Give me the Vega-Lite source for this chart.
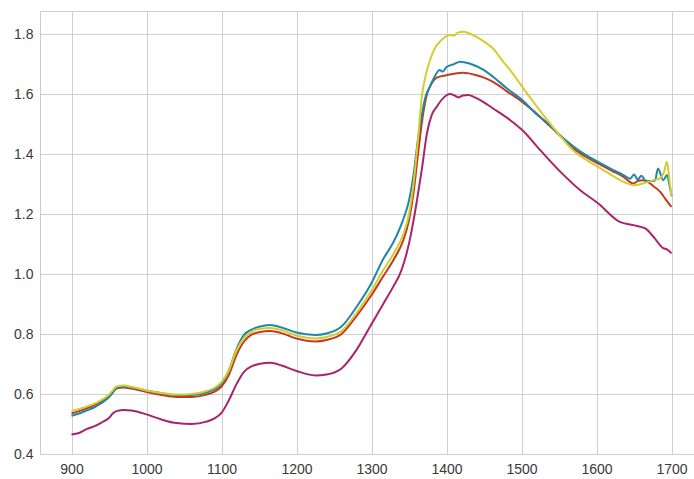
{
  "$schema": "https://vega.github.io/schema/vega-lite/v6.json",
  "width": 654,
  "height": 443,
  "autosize": {"type": "none"},
  "padding": {"left": 40, "top": 11, "right": 0, "bottom": 25},
  "background": "white",
  "config": {
    "view": {"stroke": "#cccccc", "strokeWidth": 1},
    "axis": {
      "grid": true,
      "gridColor": "#cfcfcf",
      "gridWidth": 1,
      "domain": false,
      "ticks": false,
      "labelFont": "Liberation Sans",
      "labelFontSize": 14,
      "labelColor": "#3a3a3a",
      "title": null
    }
  },
  "datasets": {
    "spectra": [
      {"s": "s1", "x": 900, "y": 0.465}, {"s": "s1", "x": 910, "y": 0.47}, {"s": "s1", "x": 920, "y": 0.483}, {"s": "s1", "x": 930, "y": 0.492}, {"s": "s1", "x": 940, "y": 0.505}, {"s": "s1", "x": 950, "y": 0.52}, {"s": "s1", "x": 955, "y": 0.535}, {"s": "s1", "x": 960, "y": 0.543}, {"s": "s1", "x": 970, "y": 0.547}, {"s": "s1", "x": 980, "y": 0.545}, {"s": "s1", "x": 1000, "y": 0.532}, {"s": "s1", "x": 1020, "y": 0.515}, {"s": "s1", "x": 1040, "y": 0.503}, {"s": "s1", "x": 1060, "y": 0.5}, {"s": "s1", "x": 1080, "y": 0.508}, {"s": "s1", "x": 1090, "y": 0.518}, {"s": "s1", "x": 1100, "y": 0.537}, {"s": "s1", "x": 1110, "y": 0.58}, {"s": "s1", "x": 1120, "y": 0.633}, {"s": "s1", "x": 1130, "y": 0.674}, {"s": "s1", "x": 1140, "y": 0.692}, {"s": "s1", "x": 1150, "y": 0.7}, {"s": "s1", "x": 1165, "y": 0.704}, {"s": "s1", "x": 1180, "y": 0.695}, {"s": "s1", "x": 1200, "y": 0.677}, {"s": "s1", "x": 1225, "y": 0.662}, {"s": "s1", "x": 1240, "y": 0.665}, {"s": "s1", "x": 1260, "y": 0.685}, {"s": "s1", "x": 1280, "y": 0.747}, {"s": "s1", "x": 1298, "y": 0.824}, {"s": "s1", "x": 1316, "y": 0.902}, {"s": "s1", "x": 1329, "y": 0.958}, {"s": "s1", "x": 1340, "y": 1.013}, {"s": "s1", "x": 1351, "y": 1.113}, {"s": "s1", "x": 1360, "y": 1.236}, {"s": "s1", "x": 1367, "y": 1.347}, {"s": "s1", "x": 1374, "y": 1.47}, {"s": "s1", "x": 1380, "y": 1.528}, {"s": "s1", "x": 1387, "y": 1.558}, {"s": "s1", "x": 1395, "y": 1.585}, {"s": "s1", "x": 1405, "y": 1.6}, {"s": "s1", "x": 1410, "y": 1.596}, {"s": "s1", "x": 1416, "y": 1.589}, {"s": "s1", "x": 1422, "y": 1.595}, {"s": "s1", "x": 1429, "y": 1.597}, {"s": "s1", "x": 1437, "y": 1.59}, {"s": "s1", "x": 1445, "y": 1.58}, {"s": "s1", "x": 1462, "y": 1.552}, {"s": "s1", "x": 1485, "y": 1.513}, {"s": "s1", "x": 1501, "y": 1.48}, {"s": "s1", "x": 1525, "y": 1.413}, {"s": "s1", "x": 1551, "y": 1.343}, {"s": "s1", "x": 1578, "y": 1.28}, {"s": "s1", "x": 1602, "y": 1.236}, {"s": "s1", "x": 1631, "y": 1.174}, {"s": "s1", "x": 1649, "y": 1.163}, {"s": "s1", "x": 1665, "y": 1.152}, {"s": "s1", "x": 1676, "y": 1.124}, {"s": "s1", "x": 1689, "y": 1.086}, {"s": "s1", "x": 1694, "y": 1.082}, {"s": "s1", "x": 1700, "y": 1.069},

      {"s": "s2", "x": 900, "y": 0.535}, {"s": "s2", "x": 910, "y": 0.543}, {"s": "s2", "x": 920, "y": 0.552}, {"s": "s2", "x": 930, "y": 0.562}, {"s": "s2", "x": 940, "y": 0.575}, {"s": "s2", "x": 950, "y": 0.592}, {"s": "s2", "x": 955, "y": 0.606}, {"s": "s2", "x": 960, "y": 0.618}, {"s": "s2", "x": 970, "y": 0.622}, {"s": "s2", "x": 980, "y": 0.618}, {"s": "s2", "x": 1000, "y": 0.607}, {"s": "s2", "x": 1020, "y": 0.597}, {"s": "s2", "x": 1040, "y": 0.59}, {"s": "s2", "x": 1060, "y": 0.59}, {"s": "s2", "x": 1080, "y": 0.598}, {"s": "s2", "x": 1090, "y": 0.607}, {"s": "s2", "x": 1100, "y": 0.625}, {"s": "s2", "x": 1110, "y": 0.665}, {"s": "s2", "x": 1120, "y": 0.73}, {"s": "s2", "x": 1130, "y": 0.775}, {"s": "s2", "x": 1140, "y": 0.798}, {"s": "s2", "x": 1150, "y": 0.806}, {"s": "s2", "x": 1165, "y": 0.81}, {"s": "s2", "x": 1180, "y": 0.803}, {"s": "s2", "x": 1200, "y": 0.785}, {"s": "s2", "x": 1225, "y": 0.775}, {"s": "s2", "x": 1240, "y": 0.78}, {"s": "s2", "x": 1260, "y": 0.8}, {"s": "s2", "x": 1280, "y": 0.86}, {"s": "s2", "x": 1300, "y": 0.93}, {"s": "s2", "x": 1315, "y": 0.99}, {"s": "s2", "x": 1330, "y": 1.05}, {"s": "s2", "x": 1342, "y": 1.11}, {"s": "s2", "x": 1350, "y": 1.18}, {"s": "s2", "x": 1356, "y": 1.27}, {"s": "s2", "x": 1362, "y": 1.4}, {"s": "s2", "x": 1368, "y": 1.52}, {"s": "s2", "x": 1374, "y": 1.6}, {"s": "s2", "x": 1380, "y": 1.635}, {"s": "s2", "x": 1387, "y": 1.655}, {"s": "s2", "x": 1400, "y": 1.663}, {"s": "s2", "x": 1410, "y": 1.668}, {"s": "s2", "x": 1422, "y": 1.671}, {"s": "s2", "x": 1430, "y": 1.669}, {"s": "s2", "x": 1440, "y": 1.663}, {"s": "s2", "x": 1450, "y": 1.655}, {"s": "s2", "x": 1462, "y": 1.641}, {"s": "s2", "x": 1480, "y": 1.61}, {"s": "s2", "x": 1501, "y": 1.574}, {"s": "s2", "x": 1520, "y": 1.535}, {"s": "s2", "x": 1534, "y": 1.502}, {"s": "s2", "x": 1550, "y": 1.465}, {"s": "s2", "x": 1569, "y": 1.419}, {"s": "s2", "x": 1585, "y": 1.392}, {"s": "s2", "x": 1602, "y": 1.369}, {"s": "s2", "x": 1620, "y": 1.345}, {"s": "s2", "x": 1636, "y": 1.324}, {"s": "s2", "x": 1649, "y": 1.302}, {"s": "s2", "x": 1655, "y": 1.31}, {"s": "s2", "x": 1662, "y": 1.313}, {"s": "s2", "x": 1670, "y": 1.305}, {"s": "s2", "x": 1676, "y": 1.293}, {"s": "s2", "x": 1685, "y": 1.274}, {"s": "s2", "x": 1692, "y": 1.25}, {"s": "s2", "x": 1700, "y": 1.224},

      {"s": "s3", "x": 900, "y": 0.527}, {"s": "s3", "x": 910, "y": 0.535}, {"s": "s3", "x": 920, "y": 0.545}, {"s": "s3", "x": 930, "y": 0.555}, {"s": "s3", "x": 940, "y": 0.57}, {"s": "s3", "x": 950, "y": 0.59}, {"s": "s3", "x": 955, "y": 0.605}, {"s": "s3", "x": 960, "y": 0.62}, {"s": "s3", "x": 970, "y": 0.625}, {"s": "s3", "x": 980, "y": 0.622}, {"s": "s3", "x": 1000, "y": 0.612}, {"s": "s3", "x": 1020, "y": 0.603}, {"s": "s3", "x": 1040, "y": 0.597}, {"s": "s3", "x": 1060, "y": 0.597}, {"s": "s3", "x": 1080, "y": 0.605}, {"s": "s3", "x": 1090, "y": 0.615}, {"s": "s3", "x": 1100, "y": 0.635}, {"s": "s3", "x": 1110, "y": 0.68}, {"s": "s3", "x": 1120, "y": 0.75}, {"s": "s3", "x": 1130, "y": 0.797}, {"s": "s3", "x": 1140, "y": 0.815}, {"s": "s3", "x": 1150, "y": 0.824}, {"s": "s3", "x": 1165, "y": 0.83}, {"s": "s3", "x": 1180, "y": 0.822}, {"s": "s3", "x": 1200, "y": 0.805}, {"s": "s3", "x": 1225, "y": 0.797}, {"s": "s3", "x": 1240, "y": 0.802}, {"s": "s3", "x": 1260, "y": 0.825}, {"s": "s3", "x": 1280, "y": 0.89}, {"s": "s3", "x": 1300, "y": 0.97}, {"s": "s3", "x": 1315, "y": 1.047}, {"s": "s3", "x": 1330, "y": 1.11}, {"s": "s3", "x": 1342, "y": 1.18}, {"s": "s3", "x": 1350, "y": 1.245}, {"s": "s3", "x": 1356, "y": 1.33}, {"s": "s3", "x": 1362, "y": 1.45}, {"s": "s3", "x": 1367, "y": 1.53}, {"s": "s3", "x": 1372, "y": 1.59}, {"s": "s3", "x": 1378, "y": 1.625}, {"s": "s3", "x": 1385, "y": 1.662}, {"s": "s3", "x": 1391, "y": 1.68}, {"s": "s3", "x": 1395, "y": 1.675}, {"s": "s3", "x": 1400, "y": 1.69}, {"s": "s3", "x": 1410, "y": 1.7}, {"s": "s3", "x": 1418, "y": 1.708}, {"s": "s3", "x": 1425, "y": 1.705}, {"s": "s3", "x": 1436, "y": 1.697}, {"s": "s3", "x": 1450, "y": 1.68}, {"s": "s3", "x": 1462, "y": 1.658}, {"s": "s3", "x": 1480, "y": 1.62}, {"s": "s3", "x": 1501, "y": 1.58}, {"s": "s3", "x": 1520, "y": 1.533}, {"s": "s3", "x": 1534, "y": 1.505}, {"s": "s3", "x": 1550, "y": 1.465}, {"s": "s3", "x": 1569, "y": 1.426}, {"s": "s3", "x": 1585, "y": 1.398}, {"s": "s3", "x": 1602, "y": 1.374}, {"s": "s3", "x": 1620, "y": 1.35}, {"s": "s3", "x": 1636, "y": 1.33}, {"s": "s3", "x": 1645, "y": 1.318}, {"s": "s3", "x": 1650, "y": 1.332}, {"s": "s3", "x": 1655, "y": 1.315}, {"s": "s3", "x": 1660, "y": 1.328}, {"s": "s3", "x": 1665, "y": 1.312}, {"s": "s3", "x": 1672, "y": 1.31}, {"s": "s3", "x": 1678, "y": 1.312}, {"s": "s3", "x": 1682, "y": 1.352}, {"s": "s3", "x": 1689, "y": 1.313}, {"s": "s3", "x": 1694, "y": 1.33}, {"s": "s3", "x": 1697, "y": 1.3}, {"s": "s3", "x": 1700, "y": 1.26},

      {"s": "s4", "x": 900, "y": 0.543}, {"s": "s4", "x": 910, "y": 0.55}, {"s": "s4", "x": 920, "y": 0.558}, {"s": "s4", "x": 930, "y": 0.567}, {"s": "s4", "x": 940, "y": 0.58}, {"s": "s4", "x": 950, "y": 0.598}, {"s": "s4", "x": 955, "y": 0.612}, {"s": "s4", "x": 960, "y": 0.625}, {"s": "s4", "x": 970, "y": 0.628}, {"s": "s4", "x": 980, "y": 0.624}, {"s": "s4", "x": 1000, "y": 0.612}, {"s": "s4", "x": 1020, "y": 0.603}, {"s": "s4", "x": 1040, "y": 0.598}, {"s": "s4", "x": 1060, "y": 0.6}, {"s": "s4", "x": 1080, "y": 0.61}, {"s": "s4", "x": 1090, "y": 0.62}, {"s": "s4", "x": 1100, "y": 0.64}, {"s": "s4", "x": 1110, "y": 0.68}, {"s": "s4", "x": 1120, "y": 0.745}, {"s": "s4", "x": 1130, "y": 0.787}, {"s": "s4", "x": 1140, "y": 0.808}, {"s": "s4", "x": 1150, "y": 0.817}, {"s": "s4", "x": 1165, "y": 0.82}, {"s": "s4", "x": 1180, "y": 0.813}, {"s": "s4", "x": 1200, "y": 0.795}, {"s": "s4", "x": 1225, "y": 0.785}, {"s": "s4", "x": 1240, "y": 0.79}, {"s": "s4", "x": 1260, "y": 0.81}, {"s": "s4", "x": 1280, "y": 0.87}, {"s": "s4", "x": 1300, "y": 0.945}, {"s": "s4", "x": 1315, "y": 1.01}, {"s": "s4", "x": 1330, "y": 1.07}, {"s": "s4", "x": 1342, "y": 1.13}, {"s": "s4", "x": 1350, "y": 1.2}, {"s": "s4", "x": 1356, "y": 1.3}, {"s": "s4", "x": 1362, "y": 1.45}, {"s": "s4", "x": 1367, "y": 1.59}, {"s": "s4", "x": 1372, "y": 1.66}, {"s": "s4", "x": 1378, "y": 1.713}, {"s": "s4", "x": 1385, "y": 1.755}, {"s": "s4", "x": 1391, "y": 1.774}, {"s": "s4", "x": 1398, "y": 1.79}, {"s": "s4", "x": 1405, "y": 1.797}, {"s": "s4", "x": 1410, "y": 1.795}, {"s": "s4", "x": 1415, "y": 1.805}, {"s": "s4", "x": 1422, "y": 1.808}, {"s": "s4", "x": 1430, "y": 1.803}, {"s": "s4", "x": 1440, "y": 1.791}, {"s": "s4", "x": 1450, "y": 1.775}, {"s": "s4", "x": 1462, "y": 1.752}, {"s": "s4", "x": 1475, "y": 1.71}, {"s": "s4", "x": 1485, "y": 1.68}, {"s": "s4", "x": 1501, "y": 1.624}, {"s": "s4", "x": 1520, "y": 1.56}, {"s": "s4", "x": 1542, "y": 1.49}, {"s": "s4", "x": 1555, "y": 1.45}, {"s": "s4", "x": 1569, "y": 1.412}, {"s": "s4", "x": 1585, "y": 1.383}, {"s": "s4", "x": 1602, "y": 1.357}, {"s": "s4", "x": 1620, "y": 1.33}, {"s": "s4", "x": 1640, "y": 1.303}, {"s": "s4", "x": 1650, "y": 1.296}, {"s": "s4", "x": 1662, "y": 1.302}, {"s": "s4", "x": 1676, "y": 1.313}, {"s": "s4", "x": 1685, "y": 1.32}, {"s": "s4", "x": 1690, "y": 1.34}, {"s": "s4", "x": 1694, "y": 1.374}, {"s": "s4", "x": 1697, "y": 1.32}, {"s": "s4", "x": 1700, "y": 1.258}
    ]
  },
  "data": {"name": "spectra"},
  "mark": {"type": "line", "strokeWidth": 2, "clip": true, "interpolate": "monotone"},
  "encoding": {
    "x": {
      "field": "x", "type": "quantitative",
      "scale": {"domain": [858, 1730], "nice": false, "zero": false},
      "axis": {"values": [900, 1000, 1100, 1200, 1300, 1400, 1500, 1600, 1700], "format": "d", "labelPadding": 8}
    },
    "y": {
      "field": "y", "type": "quantitative",
      "scale": {"domain": [0.4, 1.877], "nice": false, "zero": false},
      "axis": {"values": [0.4, 0.6, 0.8, 1.0, 1.2, 1.4, 1.6, 1.8], "format": ".1f", "labelPadding": 7}
    },
    "color": {
      "field": "s", "type": "nominal",
      "scale": {"domain": ["s1", "s2", "s3", "s4"], "range": ["#a8246e", "#c23a22", "#1e88a8", "#d6cd2c"]},
      "legend": null
    }
  }
}
